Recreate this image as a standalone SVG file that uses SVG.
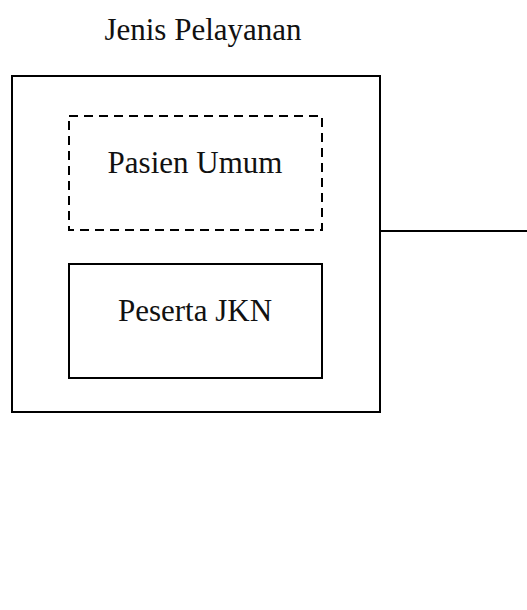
<svg xmlns="http://www.w3.org/2000/svg" width="527" height="610" viewBox="0 0 527 610">
  <style>
    .box { fill: none; stroke: #000; stroke-width: 2; }
    .dashed { stroke-dasharray: 9 6; }
    .label { font-family: "Liberation Serif", "Times New Roman", serif; font-size: 31px; fill: #111; text-anchor: middle; }
    .link { stroke: #000; stroke-width: 2; fill: none; }
  </style>
  <rect width="527" height="610" fill="#fff"/>

  <text class="label" x="203" y="40">Jenis Pelayanan</text>

  <g id="jenis-pelayanan">
    <rect class="box" x="12" y="76" width="368" height="336"/>
  </g>

  <g id="pasien-umum">
    <rect class="box dashed" x="69" y="116" width="253" height="114"/>
    <text class="label" x="195" y="173">Pasien Umum</text>
  </g>

  <g id="peserta-jkn">
    <rect class="box" x="69" y="264" width="253" height="114"/>
    <text class="label" x="195" y="321">Peserta JKN</text>
  </g>

  <g id="connectors">
    <line class="link" x1="380" y1="231" x2="527" y2="231"/>
  </g>
</svg>
